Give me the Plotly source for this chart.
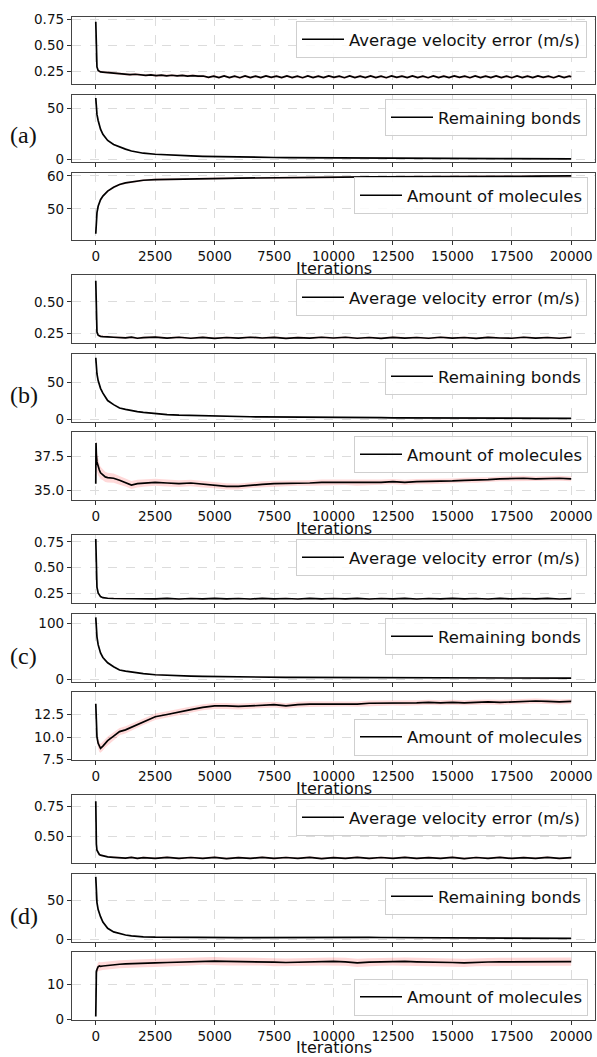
import plotly.graph_objects as go

# ---------------- data ----------------
iters = [0, 10, 25, 50, 100, 150, 200, 300, 400, 500, 750, 1000, 1250, 1500, 1750, 2000,
         2500, 3000, 3500, 4000, 4500, 5000, 5500, 6000, 6500, 7000, 7500, 8000, 8500, 9000, 9500, 10000,
         10500, 11000, 11500, 12000, 12500, 13000, 13500, 14000, 14500, 15000, 15500, 16000, 16500, 17000,
         17500, 18000, 18500, 19000, 19500, 20000]

iters_fine = [0, 10, 25, 50, 100, 150, 200, 300, 400, 500, 750, 1000] + list(range(1220, 19921, 220)) + [20000]

x_ticks = [0, 2500, 5000, 7500, 10000, 12500, 15000, 17500, 20000]
x_tick_text = ["0", "2500", "5000", "7500", "10000", "12500", "15000", "17500", "20000"]
x_title = "Iterations"
panel_labels = ["(a)", "(b)", "(c)", "(d)"]
series_names = ["Average velocity error (m/s)", "Remaining bonds", "Amount of molecules"]

# (a)
a_vel = ([0.73, 0.52, 0.36, 0.29, 0.255, 0.245, 0.242, 0.240, 0.238, 0.236, 0.232, 0.225]
         + [0.222, 0.215, 0.219, 0.212, 0.208, 0.213, 0.205, 0.210, 0.204, 0.209, 0.203, 0.207, 0.201, 0.206, 0.200]
         + [0.202, 0.188, 0.201, 0.187, 0.203, 0.186, 0.200, 0.185, 0.202, 0.187,
            0.200, 0.186, 0.203, 0.188, 0.201, 0.186, 0.202, 0.187, 0.200, 0.185,
            0.203, 0.187, 0.201, 0.186, 0.202, 0.188, 0.200, 0.185, 0.203, 0.187,
            0.201, 0.186, 0.202, 0.187, 0.200, 0.185, 0.203, 0.188, 0.201, 0.186,
            0.202, 0.187, 0.200, 0.185, 0.203, 0.187, 0.201, 0.186, 0.202, 0.188,
            0.200, 0.185, 0.203, 0.187, 0.201, 0.186, 0.202, 0.187, 0.200, 0.185,
            0.203, 0.187, 0.201, 0.186, 0.202, 0.188, 0.200, 0.185, 0.203, 0.187,
            0.201]
         + [0.195])
a_vel_std = 0.012
a_bonds = [60, 55, 50, 44, 38, 33, 29.5, 24.5, 21, 18.5, 14.5, 12, 10, 8.2, 7.0, 6.0,
           5.0, 4.3, 3.8, 3.4, 3.0, 2.7, 2.5, 2.3, 2.1, 1.95, 1.8, 1.7, 1.6, 1.5, 1.4, 1.3,
           1.25, 1.2, 1.1, 1.05, 1.0, 0.95, 0.9, 0.85, 0.8, 0.78, 0.75, 0.7, 0.68, 0.65,
           0.62, 0.6, 0.58, 0.55, 0.52, 0.5]
a_bonds_std = 0.4
a_mol = [42.5, 45, 47, 48.8, 50.8, 52, 52.8, 53.9, 54.8, 55.4, 56.6, 57.4, 57.9, 58.2, 58.5, 58.7,
         58.9, 59.0, 59.1, 59.15, 59.2, 59.3, 59.3, 59.35, 59.4, 59.45, 59.5, 59.5, 59.55, 59.55, 59.6, 59.6,
         59.65, 59.65, 59.7, 59.7, 59.7, 59.75, 59.75, 59.8, 59.8, 59.8, 59.85, 59.85, 59.85, 59.9,
         59.9, 59.9, 59.95, 59.95, 59.95, 60.0]
a_mol_std = 0.3

# (b)
b_vel = [0.67, 0.45, 0.32, 0.26, 0.235, 0.228, 0.226, 0.224, 0.221, 0.222, 0.219, 0.217, 0.214, 0.219, 0.211, 0.216,
         0.220, 0.212, 0.219, 0.211, 0.218, 0.210, 0.217, 0.212, 0.219, 0.213, 0.218, 0.210, 0.216, 0.212, 0.219, 0.213,
         0.219, 0.211, 0.217, 0.210, 0.218, 0.212, 0.217, 0.211, 0.219, 0.212, 0.217, 0.210, 0.218, 0.213,
         0.211, 0.219, 0.212, 0.217, 0.211, 0.219]
b_vel_std = 0.008
b_bonds = [83, 76, 69, 61, 52, 46, 41.5, 35, 30, 25, 19.5, 15, 13, 11.3, 10, 9.0,
           7.0, 6.0, 5.2, 4.7, 4.3, 3.9, 3.6, 3.3, 3.1, 2.9, 2.7, 2.55, 2.4, 2.3, 2.2, 2.1,
           2.0, 1.9, 1.85, 1.8, 1.7, 1.65, 1.6, 1.55, 1.5, 1.45, 1.4, 1.35, 1.3, 1.25,
           1.2, 1.2, 1.15, 1.1, 1.05, 1.0]
b_bonds_std = 0.5
b_mol = [35.5, 38.5, 37.6, 37.1, 36.7, 36.5, 36.3, 36.15, 36.0, 35.95, 35.9, 35.75, 35.6, 35.4, 35.5, 35.55,
         35.6, 35.55, 35.5, 35.55, 35.45, 35.4, 35.3, 35.3, 35.4, 35.45, 35.5, 35.5, 35.55, 35.55, 35.6, 35.6,
         35.6, 35.55, 35.6, 35.6, 35.65, 35.6, 35.65, 35.65, 35.7, 35.7, 35.75, 35.75, 35.8, 35.85,
         35.9, 35.9, 35.85, 35.9, 35.9, 35.85]
b_mol_std = [0.3, 0.6, 0.7, 0.7, 0.6, 0.5, 0.45, 0.4, 0.38, 0.36, 0.34, 0.32, 0.3, 0.3, 0.28, 0.27,
             0.26, 0.25, 0.25, 0.24, 0.24, 0.23, 0.23, 0.22, 0.22, 0.22, 0.21, 0.21, 0.21, 0.2, 0.2, 0.2,
             0.2, 0.2, 0.2, 0.2, 0.2, 0.19, 0.19, 0.19, 0.19, 0.19, 0.19, 0.19, 0.18, 0.18,
             0.18, 0.18, 0.18, 0.18, 0.18, 0.18]

# (c)
c_vel = [0.78, 0.55, 0.40, 0.31, 0.255, 0.23, 0.218, 0.208, 0.204, 0.202, 0.200, 0.199, 0.196, 0.201, 0.195, 0.200,
         0.196, 0.201, 0.195, 0.200, 0.196, 0.201, 0.196, 0.200, 0.195, 0.201, 0.196, 0.200, 0.195, 0.201, 0.196, 0.200,
         0.196, 0.201, 0.195, 0.200, 0.196, 0.201, 0.195, 0.200, 0.196, 0.201, 0.196, 0.200, 0.195, 0.201,
         0.196, 0.200, 0.196, 0.201, 0.195, 0.199]
c_vel_std = 0.006
c_bonds = [111, 100, 88, 76, 62, 53, 47, 39, 33.5, 29.5, 22.5, 16.5, 14.5, 12.8, 11.3, 10,
           8.0, 6.8, 6.0, 5.4, 5.0, 4.6, 4.3, 4.1, 3.9, 3.7, 3.5, 3.4, 3.3, 3.2, 3.1, 3.0,
           2.9, 2.8, 2.75, 2.7, 2.6, 2.55, 2.5, 2.45, 2.4, 2.35, 2.3, 2.25, 2.2, 2.15,
           2.1, 2.05, 2.0, 1.95, 1.9, 1.85]
c_bonds_std = 0.8
c_mol = [13.7, 12.0, 10.8, 10.0, 9.3, 8.9, 8.75, 9.0, 9.3, 9.6, 10.1, 10.6, 10.8, 11.1, 11.4, 11.7,
         12.25, 12.5, 12.8, 13.05, 13.3, 13.45, 13.45, 13.4, 13.45, 13.55, 13.6, 13.45, 13.6, 13.65, 13.65, 13.7,
         13.7, 13.65, 13.75, 13.75, 13.8, 13.75, 13.8, 13.85, 13.8, 13.85, 13.8, 13.85, 13.9, 13.85,
         13.9, 13.95, 14.0, 13.95, 13.9, 13.95]
c_mol_std = [0.3, 0.5, 0.55, 0.55, 0.55, 0.55, 0.5, 0.5, 0.45, 0.45, 0.42, 0.4, 0.4, 0.38, 0.38, 0.36,
             0.36, 0.35, 0.35, 0.34, 0.34, 0.33, 0.33, 0.33, 0.32, 0.32, 0.32, 0.31, 0.31, 0.31, 0.3, 0.3,
             0.3, 0.3, 0.3, 0.29, 0.29, 0.29, 0.29, 0.29, 0.28, 0.28, 0.28, 0.28, 0.28, 0.28,
             0.28, 0.28, 0.28, 0.28, 0.28, 0.28]

# (d)
d_vel = [0.79, 0.55, 0.44, 0.39, 0.365, 0.355, 0.35, 0.345, 0.34, 0.336, 0.332, 0.330, 0.325, 0.332, 0.323, 0.330,
         0.324, 0.332, 0.323, 0.331, 0.324, 0.332, 0.322, 0.330, 0.324, 0.332, 0.323, 0.331, 0.324, 0.332, 0.322, 0.330,
         0.324, 0.332, 0.323, 0.331, 0.324, 0.332, 0.323, 0.330, 0.324, 0.332, 0.322, 0.331, 0.324, 0.332,
         0.323, 0.330, 0.324, 0.332, 0.323, 0.329]
d_vel_std = 0.008
d_bonds = [80, 70, 58, 47, 38, 33, 29, 22, 17.5, 14, 9.5, 7, 5.5, 4.4, 3.7, 3.2,
           2.7, 2.5, 2.4, 2.4, 2.3, 2.3, 2.3, 2.2, 2.2, 2.3, 2.3, 2.2, 2.2, 2.3, 2.3, 2.3,
           2.4, 2.6, 2.4, 2.3, 2.2, 2.2, 2.1, 2.1, 2.0, 2.0, 1.9, 1.9, 1.8, 1.7,
           1.6, 1.5, 1.4, 1.3, 1.25, 1.2]
d_bonds_std = 0.4
d_mol = [0.8, 11, 13.5, 14.2, 15.0, 15.2, 15.1, 15.2, 15.3, 15.4, 15.6, 15.7, 15.8, 15.9, 16.0, 16.0,
         16.1, 16.2, 16.3, 16.5, 16.7, 16.6, 16.5, 16.5, 16.4, 16.5, 16.3, 16.2, 16.3, 16.4, 16.5, 16.5,
         16.4, 16.1, 16.3, 16.4, 16.5, 16.5, 16.4, 16.4, 16.3, 16.2, 16.1, 16.3, 16.35, 16.4,
         16.4, 16.4, 16.45, 16.4, 16.45, 16.45]
d_mol_std = [0.3, 1.0, 1.2, 1.2, 1.2, 1.2, 1.2, 1.15, 1.15, 1.15, 1.15, 1.15, 1.15, 1.15, 1.15, 1.15,
             1.15, 1.15, 1.15, 1.15, 1.15, 1.15, 1.15, 1.15, 1.15, 1.15, 1.15, 1.15, 1.15, 1.15, 1.15, 1.15,
             1.15, 1.15, 1.15, 1.15, 1.15, 1.15, 1.15, 1.15, 1.15, 1.15, 1.15, 1.15, 1.15, 1.15,
             1.15, 1.15, 1.15, 1.15, 1.15, 1.15]

# y-axis ranges and ticks per subplot (a1..d3)
y_ranges = [[0.124, 0.776], [-2.6, 63], [40.6, 60.9],
            [0.173, 0.715], [-4, 88], [34.3, 39.3],
            [0.156, 0.818], [-5, 117], [7.45, 15.0],
            [0.286, 0.84], [-3.5, 83.7], [-0.2, 19.2]]
y_ticks = [[0.25, 0.5, 0.75], [0, 50], [50, 60],
           [0.25, 0.5], [0, 50], [35.0, 37.5],
           [0.25, 0.5, 0.75], [0, 100], [7.5, 10.0, 12.5],
           [0.5, 0.75], [0, 50], [0, 10]]
y_formats = [".2f", "d", "d", ".2f", "d", ".1f", ".2f", "d", ".1f", ".2f", "d", "d"]

# ---------------- layout geometry (pixels) ----------------
W, H = 597, 1057
PLOT_L, PLOT_R = 72, 595
spans = [(17, 84), (95, 162), (173, 240),
         (275, 343), (354, 422), (432, 500),
         (535, 603), (614, 682), (692, 760),
         (795, 863), (874, 942), (952, 1020)]
legend_left = [296, 385, 354]
legend_bottom = [False, False, False, False, False, False, False, False, True, False, False, True]
label_centers = [135, 395, 656, 916]
title_offsets = [28.5, 28.5, 28.5, 27]

series = [
    (iters_fine, a_vel, a_vel_std), (iters, a_bonds, a_bonds_std), (iters, a_mol, a_mol_std),
    (iters, b_vel, b_vel_std), (iters, b_bonds, b_bonds_std), (iters, b_mol, b_mol_std),
    (iters, c_vel, c_vel_std), (iters, c_bonds, c_bonds_std), (iters, c_mol, c_mol_std),
    (iters, d_vel, d_vel_std), (iters, d_bonds, d_bonds_std), (iters, d_mol, d_mol_std),
]

FONT = "DejaVu Sans"
fig = go.Figure()
layout = dict(width=W, height=H, margin=dict(l=0, r=0, t=0, b=0, autoexpand=False),
              paper_bgcolor="white", plot_bgcolor="white", showlegend=True,
              font=dict(family=FONT, color="#111"))

for i, (xs, ys, sd) in enumerate(series):
    n = i + 1
    xa = "x" if n == 1 else f"x{n}"
    ya = "y" if n == 1 else f"y{n}"
    lg = "legend" if n == 1 else f"legend{n}"
    sds = sd if isinstance(sd, list) else [sd] * len(ys)
    upper = [v + s for v, s in zip(ys, sds)]
    lower = [v - s for v, s in zip(ys, sds)]
    fig.add_trace(go.Scatter(x=list(xs) + list(xs)[::-1], y=upper + lower[::-1],
                             fill="toself", fillcolor="rgba(255,0,0,0.15)",
                             line=dict(width=0), mode="lines", hoverinfo="skip",
                             showlegend=False, xaxis=xa, yaxis=ya))
    fig.add_trace(go.Scatter(x=xs, y=ys, mode="lines", name=series_names[i % 3],
                             line=dict(color="black", width=1.7),
                             xaxis=xa, yaxis=ya, legend=lg, showlegend=True))

    top, bot = spans[i]
    bottom_of_panel = (i % 3 == 2)
    xkey = "xaxis" if n == 1 else f"xaxis{n}"
    ykey = "yaxis" if n == 1 else f"yaxis{n}"
    layout[xkey] = dict(domain=[PLOT_L / W, PLOT_R / W], anchor=ya, range=[-1000, 21000],
                        tickvals=x_ticks, ticktext=x_tick_text, showticklabels=bottom_of_panel,
                        ticks="outside", ticklen=4, tickwidth=1, tickcolor="#333",
                        tickfont=dict(size=13.5, color="#111"),
                        showline=True, mirror=True, linecolor="#444", linewidth=1.4,
                        showgrid=True, gridcolor="#dcdcdc", griddash="dash", gridwidth=0.8,
                        zeroline=False, automargin=False)
    layout[ykey] = dict(domain=[1 - bot / H, 1 - top / H], anchor=xa, range=y_ranges[i],
                        tickvals=y_ticks[i], tickformat=y_formats[i],
                        ticks="outside", ticklen=4, tickwidth=1, tickcolor="#333",
                        tickfont=dict(size=13.5, color="#111"),
                        showline=True, mirror=True, linecolor="#444", linewidth=1.4,
                        showgrid=True, gridcolor="#dcdcdc", griddash="dash", gridwidth=0.8,
                        zeroline=False, automargin=False)
    if legend_bottom[i]:
        yc = bot - 23
    else:
        yc = top + 22.5
    layout[lg] = dict(x=legend_left[i % 3] / W, xanchor="left", y=1 - yc / H, yanchor="middle",
                      bgcolor="rgba(255,255,255,0.85)", bordercolor="#cfcfcf",
                      borderwidth=1, itemwidth=42, font=dict(family=FONT, size=16.5, color="#111"))

annotations = []
for k, lab in enumerate(panel_labels):
    annotations.append(dict(text=lab, x=8 / W, y=1 - label_centers[k] / H, xref="paper", yref="paper",
                            xanchor="left", yanchor="middle", showarrow=False,
                            font=dict(family="Liberation Serif", size=24, color="#111")))
for k in range(4):
    bot = spans[3 * k + 2][1]
    annotations.append(dict(text=x_title, x=(PLOT_L + PLOT_R) / 2 / W, y=1 - (bot + title_offsets[k]) / H,
                            xref="paper", yref="paper", xanchor="center", yanchor="middle",
                            showarrow=False, font=dict(family=FONT, size=16, color="#111")))
layout["annotations"] = annotations

fig.update_layout(**layout)
fig.write_html("out.html", config={"displayModeBar": False},
               post_script="document.body.style.margin='0px';document.body.style.overflow='hidden';")
